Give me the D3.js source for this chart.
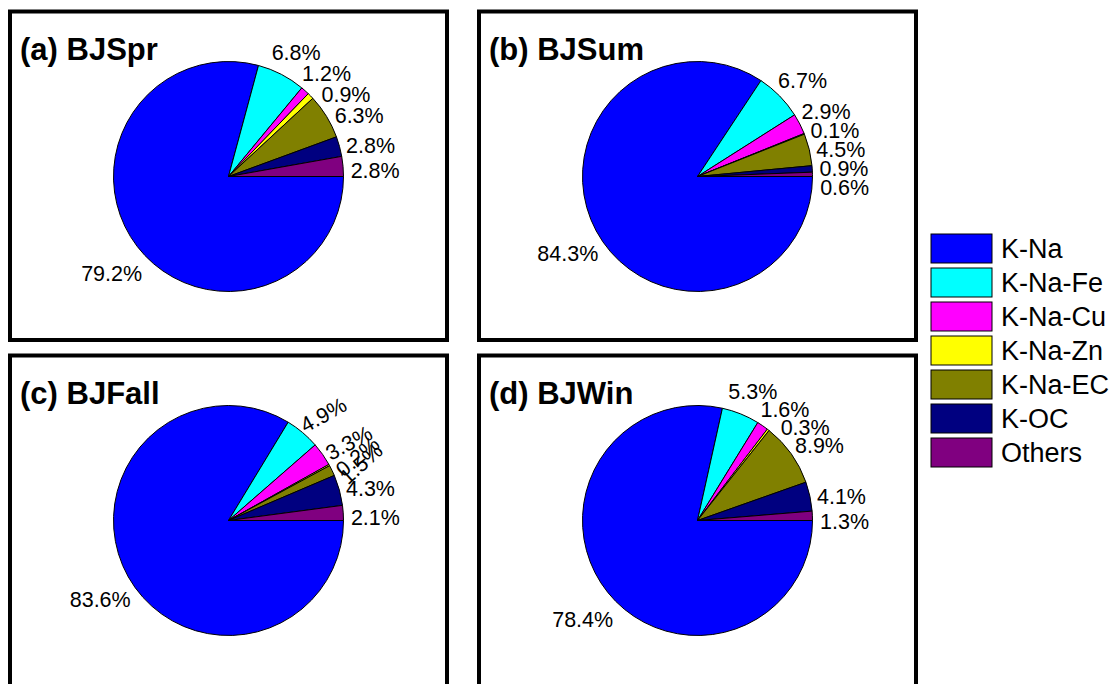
<!DOCTYPE html>
<html>
<head>
<meta charset="utf-8">
<script src="https://cdn.jsdelivr.net/npm/d3@7"></script>
<style>
  body { margin: 0; background: #ffffff; }
  svg { display: block; }
  text { font-family: "Liberation Sans", Arial, sans-serif; fill: #000; }
</style>
</head>
<body>
<svg id="chart" width="1113" height="684"></svg>
<script>
// Particle-type categories and their fill colours
const categories = ["K-Na", "K-Na-Fe", "K-Na-Cu", "K-Na-Zn", "K-Na-EC", "K-OC", "Others"];
const categoryColors = ["#0000ff", "#00ffff", "#ff00ff", "#ffff00", "#808000", "#000080", "#800080"];

// Panel titles (Beijing, by season)
const panelTitles = ["(a) BJSpr", "(b) BJSum", "(c) BJFall", "(d) BJWin"];

// Number fraction of each particle type (%)
const springValues = [79.2, 6.8, 1.2, 0.9, 6.3, 2.8, 2.8];
const summerValues = [84.3, 6.7, 2.9, 0.1, 4.5, 0.9, 0.6];
const fallValues   = [83.6, 4.9, 3.3, 0.2, 1.5, 4.3, 2.1];
const winterValues = [78.4, 5.3, 1.6, 0.3, 8.9, 4.1, 1.3];

// Tilt (degrees) of the crowded labels in the fall panel
const fallLabelTilt = [0, -29, -28, -40, -42, 0, 0];

const svg = d3.select("#chart");

const boxW = 437;
const radius = 115;
const pieCx = 218.5, pieCy = 165;
const labelR = radius * 1.28;
const labelDrop = 7;

// spread: "down" keeps the top of a crowded group fixed, "centre" spreads it both ways
const panels = [
  { title: panelTitles[0], values: springValues, x: 10,  y: 11.5,  h: 328.5, tilt: null, gap: 21, spread: "down" },
  { title: panelTitles[1], values: summerValues, x: 479, y: 11.5,  h: 328.5, tilt: null, gap: 19, spread: "centre" },
  { title: panelTitles[2], values: fallValues,   x: 10,  y: 355.5, h: 340,   tilt: fallLabelTilt, gap: 20, spread: "down" },
  { title: panelTitles[3], values: winterValues, x: 479, y: 355.5, h: 340,   tilt: null, gap: 18, spread: "down" }
];

// Slices start at 3 o'clock and run clockwise
const pie = d3.pie().sort(null).value(d => d)
  .startAngle(Math.PI / 2).endAngle(Math.PI / 2 + 2 * Math.PI);
const arc = d3.arc().innerRadius(0).outerRadius(radius);
const fmt = v => v.toFixed(1) + "%";

// Resolve vertical overlaps of a top-to-bottom list of labels
function spreadLabels(list, gap, mode) {
  let groups = list.map(l => ({ items: [l], top: l.y, sum: l.y }));
  let merged = true;
  while (merged) {
    merged = false;
    for (let k = 0; k < groups.length - 1; k++) {
      const a = groups[k], b = groups[k + 1];
      if (a.top + a.items.length * gap > b.top) {
        const items = a.items.concat(b.items);
        const sum = a.sum + b.sum;
        const top = mode === "down" ? a.top : sum / items.length - (items.length - 1) * gap / 2;
        groups.splice(k, 2, { items, top, sum });
        merged = true;
        break;
      }
    }
  }
  groups.forEach(g => g.items.forEach((l, j) => {
    const y = g.top + j * gap;
    if (Math.abs(y - l.y) > 0.01) {
      l.y = y;
      const dy = y - labelDrop;
      l.x = Math.sqrt(Math.max(0, labelR * labelR - dy * dy));
    }
  }));
}

panels.forEach(p => {
  const g = svg.append("g").attr("transform", `translate(${p.x},${p.y})`);

  g.append("rect")
    .attr("width", boxW).attr("height", p.h)
    .attr("fill", "none").attr("stroke", "#000").attr("stroke-width", 4);

  g.append("text")
    .attr("x", 10).attr("y", 48)
    .attr("font-size", 31).attr("font-weight", "bold")
    .text(p.title);

  const pg = g.append("g").attr("transform", `translate(${pieCx},${pieCy})`);
  const arcs = pie(p.values);

  pg.selectAll("path.slice")
    .data(arcs)
    .join("path")
    .attr("class", "slice")
    .attr("d", arc)
    .attr("fill", (d, i) => categoryColors[i])
    .attr("stroke", "#000")
    .attr("stroke-width", 1);

  // Label anchors on a ring outside the pie, at each slice's mid-angle
  const labels = arcs.map((d, i) => {
    const a = (d.startAngle + d.endAngle) / 2;
    return {
      i,
      x: Math.sin(a) * labelR,
      y: -Math.cos(a) * labelR + labelDrop,
      tilt: p.tilt ? p.tilt[i] : 0,
      text: fmt(d.data)
    };
  });

  // Upright labels of the small slices on the right-hand side
  spreadLabels(labels.filter(l => l.i > 0 && !l.tilt), p.gap, p.spread);

  pg.selectAll("text.pct")
    .data(labels)
    .join("text")
    .attr("class", "pct")
    .attr("transform", d => `translate(${d.x},${d.y}) rotate(${d.tilt})`)
    .attr("text-anchor", "middle")
    .attr("dy", "0.35em")
    .attr("font-size", 21.5)
    .text(d => d.text);
});

// Legend
const legend = svg.append("g").attr("transform", "translate(931,234)");
const items = legend.selectAll("g.item")
  .data(categories)
  .join("g")
  .attr("class", "item")
  .attr("transform", (d, i) => `translate(0,${i * 34})`);

items.append("rect")
  .attr("width", 61).attr("height", 29)
  .attr("fill", (d, i) => categoryColors[i])
  .attr("stroke", "#000").attr("stroke-width", 1);

items.append("text")
  .attr("x", 70).attr("y", 24)
  .attr("font-size", 27)
  .text(d => d);
</script>
</body>
</html>
